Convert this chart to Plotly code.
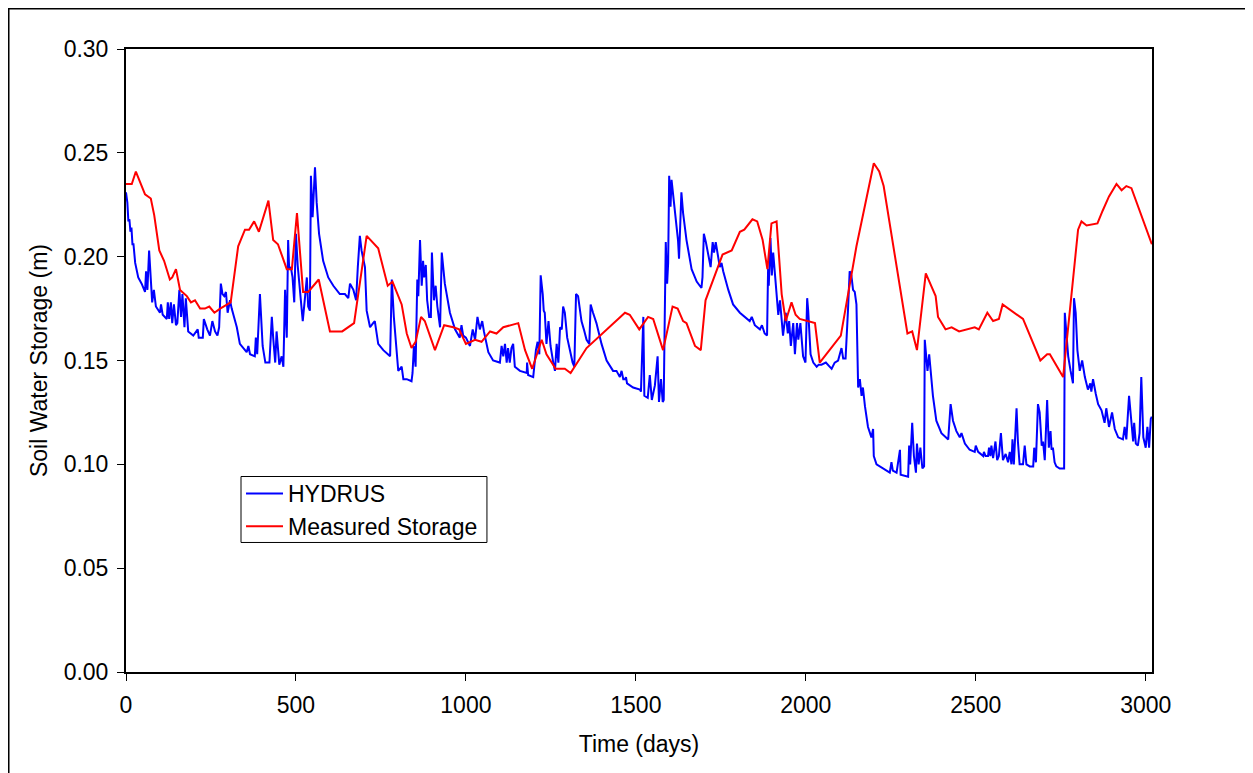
import plotly.graph_objects as go

# ---- data ----
hydrus_day = [0, 4, 7, 10, 13, 16, 19, 22, 27, 36, 46, 56, 59, 63, 68, 73, 77, 82, 88, 100,
              103, 108, 120, 123, 127, 132, 136, 141, 147, 151, 157, 162, 166, 172, 176, 183, 198, 211, 214, 226,
              229, 239, 247, 254, 262, 269, 274, 279, 284, 289, 294, 299, 306, 311, 326, 335, 345, 355, 360, 365,
              379, 382, 386, 394, 402, 410, 422, 429, 433, 439, 443, 451, 458, 463, 468, 473, 477, 480, 485, 490,
              495, 500, 505, 512, 520, 527, 532, 536, 541, 544, 549, 556, 561, 568, 580, 595, 610, 629, 644, 654,
              659, 669, 677, 682, 688, 693, 703, 708, 718, 727, 732, 742, 757, 777, 782, 788, 796, 801, 811, 816,
              826, 840, 843, 847, 852, 857, 860, 865, 870, 874, 877, 882, 886, 892, 897, 900, 906, 911, 916, 924,
              929, 938, 953, 968, 982, 987, 992, 1000, 1012, 1020, 1027, 1034, 1041, 1048, 1053, 1066, 1080, 1100, 1105, 1110,
              1115, 1120, 1124, 1129, 1134, 1139, 1144, 1159, 1179, 1180, 1183, 1198, 1206, 1211, 1216, 1220, 1226, 1229, 1232, 1237,
              1243, 1249, 1257, 1262, 1267, 1272, 1277, 1282, 1286, 1291, 1298, 1306, 1314, 1319, 1324, 1330, 1340, 1347, 1355, 1363,
              1367, 1374, 1384, 1399, 1414, 1433, 1443, 1453, 1458, 1463, 1468, 1471, 1474, 1492, 1512, 1515, 1522, 1525, 1535, 1541,
              1547, 1556, 1564, 1568, 1574, 1579, 1582, 1585, 1588, 1592, 1595, 1598, 1602, 1605, 1610, 1624, 1627, 1632, 1634, 1639,
              1649, 1664, 1679, 1688, 1693, 1696, 1700, 1706, 1713, 1720, 1726, 1730, 1735, 1740, 1747, 1752, 1757, 1772, 1786, 1806,
              1826, 1835, 1841, 1850, 1865, 1871, 1879, 1886, 1889, 1891, 1896, 1900, 1904, 1909, 1914, 1919, 1924, 1933, 1941, 1947,
              1951, 1956, 1963, 1968, 1974, 1978, 1984, 1992, 1999, 2004, 2007, 2014, 2022, 2032, 2038, 2046, 2059, 2076, 2085, 2095,
              2105, 2110, 2117, 2120, 2124, 2129, 2134, 2139, 2144, 2149, 2154, 2159, 2164, 2168, 2174, 2183, 2193, 2198, 2200, 2208,
              2227, 2247, 2252, 2256, 2267, 2277, 2279, 2301, 2304, 2307, 2313, 2318, 2324, 2327, 2332, 2337, 2343, 2348, 2350, 2354,
              2358, 2363, 2368, 2374, 2384, 2399, 2419, 2426, 2433, 2443, 2453, 2458, 2468, 2482, 2497, 2500, 2507, 2522, 2524, 2529,
              2536, 2539, 2543, 2546, 2551, 2558, 2563, 2568, 2574, 2580, 2588, 2595, 2600, 2605, 2608, 2612, 2620, 2624, 2629, 2639,
              2644, 2649, 2659, 2669, 2672, 2677, 2683, 2688, 2694, 2698, 2703, 2706, 2710, 2715, 2720, 2723, 2727, 2732, 2737, 2747,
              2760, 2762, 2767, 2772, 2779, 2786, 2789, 2794, 2799, 2806, 2813, 2821, 2830, 2837, 2840, 2845, 2853, 2860, 2870, 2879,
              2884, 2892, 2901, 2909, 2919, 2933, 2938, 2943, 2951, 2958, 2963, 2966, 2971, 2977, 2982, 2987, 2993, 3000, 3005, 3010,
              3015, 3018]
hydrus_storage = [0.231, 0.226, 0.217, 0.218, 0.212, 0.214, 0.206, 0.206, 0.197, 0.190, 0.187, 0.183, 0.193, 0.184, 0.203, 0.186, 0.178, 0.184, 0.176, 0.173,
                  0.177, 0.172, 0.170, 0.178, 0.170, 0.178, 0.168, 0.177, 0.167, 0.168, 0.184, 0.171, 0.182, 0.166, 0.180, 0.164, 0.162, 0.165, 0.161, 0.161,
                  0.170, 0.165, 0.162, 0.169, 0.164, 0.162, 0.166, 0.187, 0.182, 0.181, 0.183, 0.173, 0.179, 0.175, 0.166, 0.158, 0.156, 0.154, 0.157, 0.153,
                  0.152, 0.161, 0.153, 0.182, 0.157, 0.149, 0.149, 0.171, 0.161, 0.149, 0.164, 0.148, 0.152, 0.147, 0.184, 0.161, 0.208, 0.194, 0.195, 0.190,
                  0.178, 0.211, 0.196, 0.184, 0.169, 0.181, 0.190, 0.176, 0.174, 0.239, 0.219, 0.243, 0.226, 0.211, 0.198, 0.190, 0.186, 0.182, 0.182, 0.180,
                  0.187, 0.184, 0.179, 0.195, 0.210, 0.203, 0.195, 0.174, 0.166, 0.168, 0.169, 0.158, 0.155, 0.152, 0.189, 0.171, 0.152, 0.145, 0.147, 0.141,
                  0.141, 0.140, 0.144, 0.157, 0.147, 0.189, 0.181, 0.208, 0.186, 0.198, 0.190, 0.196, 0.179, 0.171, 0.171, 0.202, 0.179, 0.186, 0.176, 0.166,
                  0.202, 0.187, 0.173, 0.165, 0.161, 0.167, 0.162, 0.161, 0.157, 0.165, 0.160, 0.171, 0.165, 0.169, 0.164, 0.154, 0.150, 0.149, 0.157, 0.152,
                  0.158, 0.149, 0.156, 0.149, 0.156, 0.158, 0.147, 0.145, 0.144, 0.149, 0.143, 0.142, 0.155, 0.159, 0.153, 0.191, 0.182, 0.174, 0.173, 0.158,
                  0.169, 0.157, 0.149, 0.145, 0.158, 0.149, 0.166, 0.165, 0.176, 0.173, 0.161, 0.155, 0.149, 0.147, 0.182, 0.181, 0.169, 0.165, 0.160, 0.158,
                  0.177, 0.173, 0.168, 0.158, 0.150, 0.145, 0.145, 0.142, 0.145, 0.141, 0.141, 0.142, 0.139, 0.137, 0.136, 0.135, 0.171, 0.133, 0.132, 0.143,
                  0.131, 0.138, 0.152, 0.130, 0.141, 0.130, 0.131, 0.171, 0.207, 0.187, 0.197, 0.239, 0.224, 0.237, 0.229, 0.208, 0.199, 0.218, 0.231, 0.221,
                  0.208, 0.194, 0.188, 0.186, 0.185, 0.190, 0.211, 0.207, 0.200, 0.195, 0.207, 0.202, 0.207, 0.202, 0.195, 0.197, 0.193, 0.184, 0.177, 0.173,
                  0.170, 0.169, 0.171, 0.167, 0.165, 0.167, 0.163, 0.162, 0.194, 0.186, 0.209, 0.191, 0.202, 0.191, 0.181, 0.172, 0.179, 0.162, 0.173, 0.163,
                  0.169, 0.157, 0.168, 0.153, 0.168, 0.160, 0.168, 0.152, 0.149, 0.180, 0.174, 0.153, 0.149, 0.147, 0.148, 0.148, 0.149, 0.146, 0.149, 0.150,
                  0.156, 0.151, 0.151, 0.164, 0.174, 0.193, 0.191, 0.184, 0.183, 0.177, 0.137, 0.141, 0.133, 0.137, 0.128, 0.118, 0.113, 0.117, 0.104, 0.100,
                  0.098, 0.096, 0.101, 0.097, 0.096, 0.107, 0.095, 0.094, 0.109, 0.100, 0.120, 0.104, 0.096, 0.110, 0.100, 0.108, 0.098, 0.099, 0.160, 0.153,
                  0.145, 0.153, 0.145, 0.133, 0.121, 0.115, 0.112, 0.129, 0.121, 0.116, 0.113, 0.115, 0.110, 0.107, 0.106, 0.109, 0.106, 0.104, 0.106, 0.104,
                  0.104, 0.108, 0.104, 0.109, 0.103, 0.111, 0.102, 0.104, 0.115, 0.102, 0.105, 0.101, 0.106, 0.100, 0.112, 0.100, 0.127, 0.111, 0.100, 0.100,
                  0.109, 0.100, 0.099, 0.099, 0.108, 0.101, 0.129, 0.125, 0.109, 0.111, 0.102, 0.120, 0.131, 0.108, 0.116, 0.107, 0.108, 0.101, 0.099, 0.098,
                  0.098, 0.173, 0.162, 0.152, 0.145, 0.139, 0.180, 0.173, 0.155, 0.145, 0.150, 0.142, 0.136, 0.139, 0.135, 0.141, 0.134, 0.129, 0.126, 0.120,
                  0.127, 0.118, 0.125, 0.117, 0.113, 0.112, 0.118, 0.112, 0.133, 0.118, 0.111, 0.120, 0.110, 0.109, 0.115, 0.142, 0.113, 0.108, 0.118, 0.108,
                  0.122, 0.123]

measured_day = [0, 17, 29, 56, 73, 83, 98, 112, 129, 136, 147, 159, 179, 191, 203, 218, 232, 245, 260, 277,
                308, 330, 350, 362, 377, 391, 419, 433, 447, 473, 488, 503, 521, 536, 567, 600, 636, 671, 708, 742,
                770, 784, 811, 826, 840, 852, 868, 879, 909, 936, 963, 980, 1000, 1027, 1046, 1071, 1090, 1110, 1154, 1174,
                1195, 1223, 1237, 1264, 1291, 1308, 1355, 1468, 1482, 1510, 1536, 1551, 1580, 1608, 1623, 1639, 1649, 1674, 1691, 1705,
                1755, 1782, 1806, 1819, 1843, 1857, 1873, 1887, 1899, 1914, 1929, 1941, 1958, 1970, 1982, 2027, 2041, 2103, 2149, 2200,
                2216, 2229, 2299, 2313, 2327, 2353, 2382, 2389, 2411, 2429, 2451, 2497, 2509, 2534, 2551, 2568, 2579, 2639, 2690, 2710,
                2718, 2757, 2801, 2811, 2826, 2858, 2873, 2892, 2914, 2929, 2943, 2958, 3018]
measured_storage = [0.235, 0.235, 0.241, 0.230, 0.228, 0.220, 0.203, 0.198, 0.189, 0.190, 0.194, 0.184, 0.181, 0.178, 0.179, 0.175, 0.175, 0.176, 0.173, 0.175,
                    0.178, 0.205, 0.213, 0.213, 0.217, 0.212, 0.227, 0.208, 0.206, 0.194, 0.194, 0.221, 0.183, 0.183, 0.189, 0.164, 0.164, 0.168, 0.210, 0.204,
                    0.186, 0.188, 0.177, 0.163, 0.156, 0.159, 0.171, 0.169, 0.155, 0.167, 0.166, 0.165, 0.158, 0.160, 0.159, 0.164, 0.163, 0.166, 0.168, 0.155,
                    0.146, 0.160, 0.153, 0.146, 0.146, 0.144, 0.156, 0.173, 0.172, 0.165, 0.171, 0.170, 0.155, 0.176, 0.175, 0.169, 0.168, 0.157, 0.155, 0.179,
                    0.201, 0.203, 0.212, 0.213, 0.218, 0.217, 0.208, 0.194, 0.216, 0.217, 0.182, 0.169, 0.178, 0.172, 0.170, 0.168, 0.149, 0.162, 0.205, 0.245,
                    0.241, 0.234, 0.163, 0.164, 0.155, 0.192, 0.181, 0.171, 0.165, 0.166, 0.164, 0.166, 0.165, 0.173, 0.169, 0.170, 0.177, 0.170, 0.150, 0.153,
                    0.153, 0.142, 0.213, 0.217, 0.215, 0.216, 0.222, 0.229, 0.235, 0.232, 0.234, 0.233, 0.206]

x_ticks = [0, 500, 1000, 1500, 2000, 2500, 3000]
y_ticks = [0.00, 0.05, 0.10, 0.15, 0.20, 0.25, 0.30]

FONT = "Liberation Sans, Arial, sans-serif"
FS = 23

fig = go.Figure()
fig.add_trace(go.Scatter(x=hydrus_day, y=hydrus_storage, mode="lines", name="HYDRUS",
                         legendgroup="a", line=dict(color="#0000FF", width=2)))
fig.add_trace(go.Scatter(x=measured_day, y=measured_storage, mode="lines", name="Measured Storage",
                         legendgroup="b", line=dict(color="#FF0000", width=2)))

axis_common = dict(showgrid=False, zeroline=False, showline=True, linecolor="black", linewidth=2,
                   mirror=True, ticks="outside", ticklen=7, tickwidth=1, tickcolor="black",
                   tickfont=dict(family=FONT, size=FS, color="black"))

fig.update_xaxes(range=[0, 3018.5], tickvals=x_ticks, ticktext=[str(v) for v in x_ticks],
                 ticklabelstandoff=4,
                 title=dict(text="Time (days)", font=dict(family=FONT, size=FS, color="black"), standoff=19),
                 **axis_common)
fig.update_yaxes(range=[0, 0.30], tickvals=y_ticks, ticktext=[f"{v:.2f}" for v in y_ticks],
                 ticklabelstandoff=4,
                 title=dict(text="Soil Water Storage (m)", font=dict(family=FONT, size=FS, color="black"), standoff=10),
                 **axis_common)

fig.update_layout(
    width=1245, height=765,
    margin=dict(l=118, r=101, t=41, b=101),
    paper_bgcolor="white", plot_bgcolor="white",
    font=dict(family=FONT, size=FS, color="black"),
    legend=dict(x=0.1121, y=0.3210, xanchor="left", yanchor="top",
                borderwidth=0, bgcolor="rgba(0,0,0,0)",
                traceorder="grouped", tracegroupgap=0, itemwidth=37,
                font=dict(family=FONT, size=FS, color="black")),
    shapes=[
        # outer chart frame
        dict(type="rect", xref="paper", yref="paper",
             x0=-0.1145, x1=1.5, y0=-0.5, y1=1.0650,
             line=dict(color="black", width=2), fillcolor="rgba(0,0,0,0)", layer="above"),
        # legend box
        dict(type="rect", xref="paper", yref="paper",
             x0=0.1121, x1=0.3518, y0=0.2079, y1=0.3138,
             line=dict(color="black", width=1), fillcolor="white", layer="above"),
    ],
)

fig.write_html("out.html")
